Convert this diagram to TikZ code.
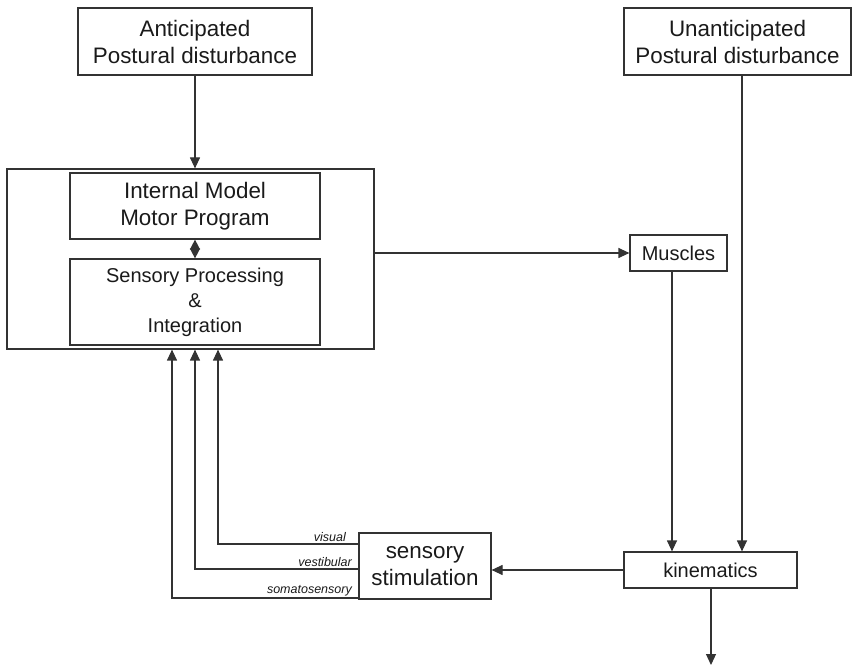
\documentclass[tikz,border=0pt]{standalone}
\usepackage{fontspec}
\setmainfont{Liberation Sans}
\usetikzlibrary{arrows.meta}
\definecolor{ink}{HTML}{1A1A1A}
\definecolor{ln}{HTML}{333333}
\begin{document}
\begin{tikzpicture}[x=1pt,y=-1pt,
  box/.style={draw=ln,line width=1.2pt,rectangle,inner sep=0pt,align=center,text=ink},
  big/.style={font=\fontsize{22.4}{27}\selectfont},
  mid/.style={font=\fontsize{20}{25}\selectfont},
  arr/.style={draw=ln,line width=1.2pt,-{Triangle[length=11pt,width=10pt]}},
  lab/.style={font=\fontsize{12.5}{14}\selectfont\itshape,text=ink,inner sep=1pt,anchor=south east}]
\useasboundingbox (0,0) rectangle (855,668);
% top boxes
\node[box,big,minimum width=234pt,minimum height=67pt] (ant) at (195,41.5) {Anticipated\\Postural disturbance};
\node[box,big,minimum width=227pt,minimum height=67pt] (un) at (737.5,41.5) {Unanticipated\\Postural disturbance};
% outer CNS box
\node[box,minimum width=367pt,minimum height=180pt] (outer) at (190.5,259) {};
\node[box,big,minimum width=250pt,minimum height=66pt] (im) at (195,206) {Internal Model\\Motor Program};
\node[box,mid,minimum width=250pt,minimum height=86pt] (sp) at (195,302) {Sensory Processing\\\&\\Integration};
% right side
\node[box,mid,minimum width=97pt,minimum height=36pt] (mus) at (678.5,253) {Muscles};
\node[box,mid,minimum width=173pt,minimum height=36pt] (kin) at (710.5,570) {kinematics};
\node[box,big,minimum width=132pt,minimum height=66pt] (stim) at (425,566) {sensory\\stimulation};
\coordinate (out) at (711,665);
% connectors
\draw[arr] (ant.south) -- (outer.north -| ant.south);
\draw[draw=ln,line width=1.2pt,{Triangle[length=10pt,width=10pt]}-{Triangle[length=10pt,width=10pt]}] (im.south) -- (sp.north);
\draw[arr] (mus.west -| outer.east) -- (mus.west);
\draw[arr] ([xshift=-6.5pt]mus.south) -- ([xshift=-6.5pt]mus.south |- kin.north);
\draw[arr] ([xshift=4.5pt]un.south) -- ([xshift=4.5pt]un.south |- kin.north);
\draw[arr] (kin.west) -- (kin.west -| stim.east);
\draw[arr] ([xshift=0.5pt]kin.south) -- (out);
% feedback lines
\coordinate (v) at (218,544);
\coordinate (ve) at (195,569);
\coordinate (so) at (172,598);
\draw[arr] (stim.west |- v) -- (v) -- (v |- outer.south);
\draw[arr] (stim.west |- ve) -- (ve) -- (ve |- outer.south);
\draw[arr] (stim.west |- so) -- (so) -- (so |- outer.south);
\node[lab] (lv) at (347,543) {visual};
\node[lab] (lve) at (353,568) {vestibular};
\node[lab] (lso) at (353,597) {somatosensory};
\end{tikzpicture}
\end{document}
